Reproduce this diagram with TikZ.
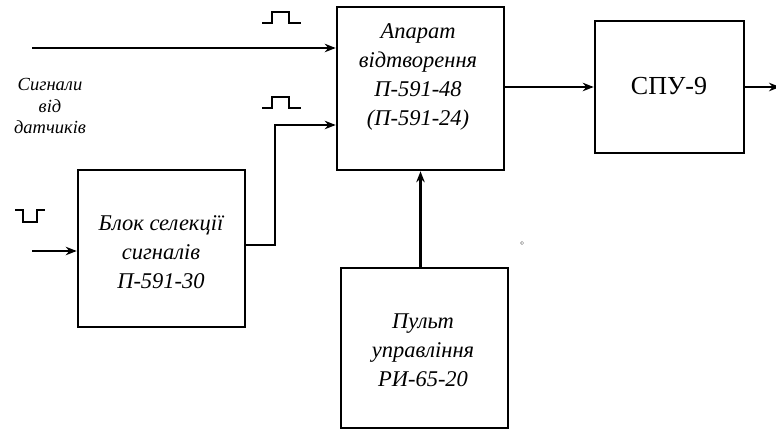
\documentclass[tikz,border=0pt]{standalone}
\usepackage{fontspec}
\setmainfont{Liberation Serif}
\usetikzlibrary{arrows.meta}
\tikzset{
  blockbox/.style={draw, line width=2.6pt, minimum width=#1, inner sep=0pt},
  lbl/.style={font=\fontsize{22.5}{29}\selectfont\itshape, align=center, inner sep=0pt},
  side/.style={font=\fontsize{18.5}{21.5}\selectfont\itshape, align=center, inner sep=0pt},
  arr/.style={line width=2.3pt, -{Stealth[length=11pt,width=8.5pt]}},
  pulse/.style={line width=2.4pt}
}
\begin{document}
\begin{tikzpicture}[x=1pt,y=-1pt]
\useasboundingbox (0,0) rectangle (776,430);
% boxes
\node[blockbox=167pt, minimum height=163pt] (app) at (420.5,88.5) {};
\node[blockbox=149pt, minimum height=132pt] (spu) at (669.5,87) {};
\node[blockbox=167pt, minimum height=157pt] (blk) at (161.5,248.5) {};
\node[blockbox=167pt, minimum height=160pt] (pult) at (424.5,348) {};
% texts
\node[lbl] (appt) at (418,77) {Апарат\\відтворення\\П-591-48\\(П-591-24)};
\node[font=\fontsize{26}{30}\selectfont, inner sep=0pt] (spt) at (669,86) {СПУ-9};
\node[lbl] (blkt) at (161,252) {Блок селекції\\сигналів\\П-591-30};
\node[lbl] (pultt) at (423,350) {Пульт\\управління\\РИ-65-20};
\node[side] (sig) at (50,106) {Сигнали\\від\\датчиків};
% connectors
\coordinate (in1) at (32,48);
\coordinate (in2) at (32,251);
\coordinate (j) at (275,125);
\coordinate (out) at (780,87);
\draw[arr] (in1) -- (in1 -| app.west);
\draw[arr] (in2) -- (in2 -| blk.west);
\draw[arr] (blk.east |- 0,245) -| (j) -- (j -| app.west);
\draw[arr] (spu.west -| app.east) -- (spu.west);
\draw[arr] (spu.east) -- (out);
\draw[arr] (app.south |- pult.north) -- (app.south);
% pulse symbols
\draw[pulse] (262,23) -- (272,23) -- (272,12) -- (289,12) -- (289,23) -- (301,23);
\draw[pulse] (262,108) -- (272,108) -- (272,97) -- (289,97) -- (289,108) -- (301,108);
\draw[pulse] (15,210) -- (23,210) -- (23,222) -- (37,222) -- (37,210) -- (45,210);
% stray mark
\draw[line width=0.5pt, gray] (522,243) circle (1.6pt);
\end{tikzpicture}
\end{document}
